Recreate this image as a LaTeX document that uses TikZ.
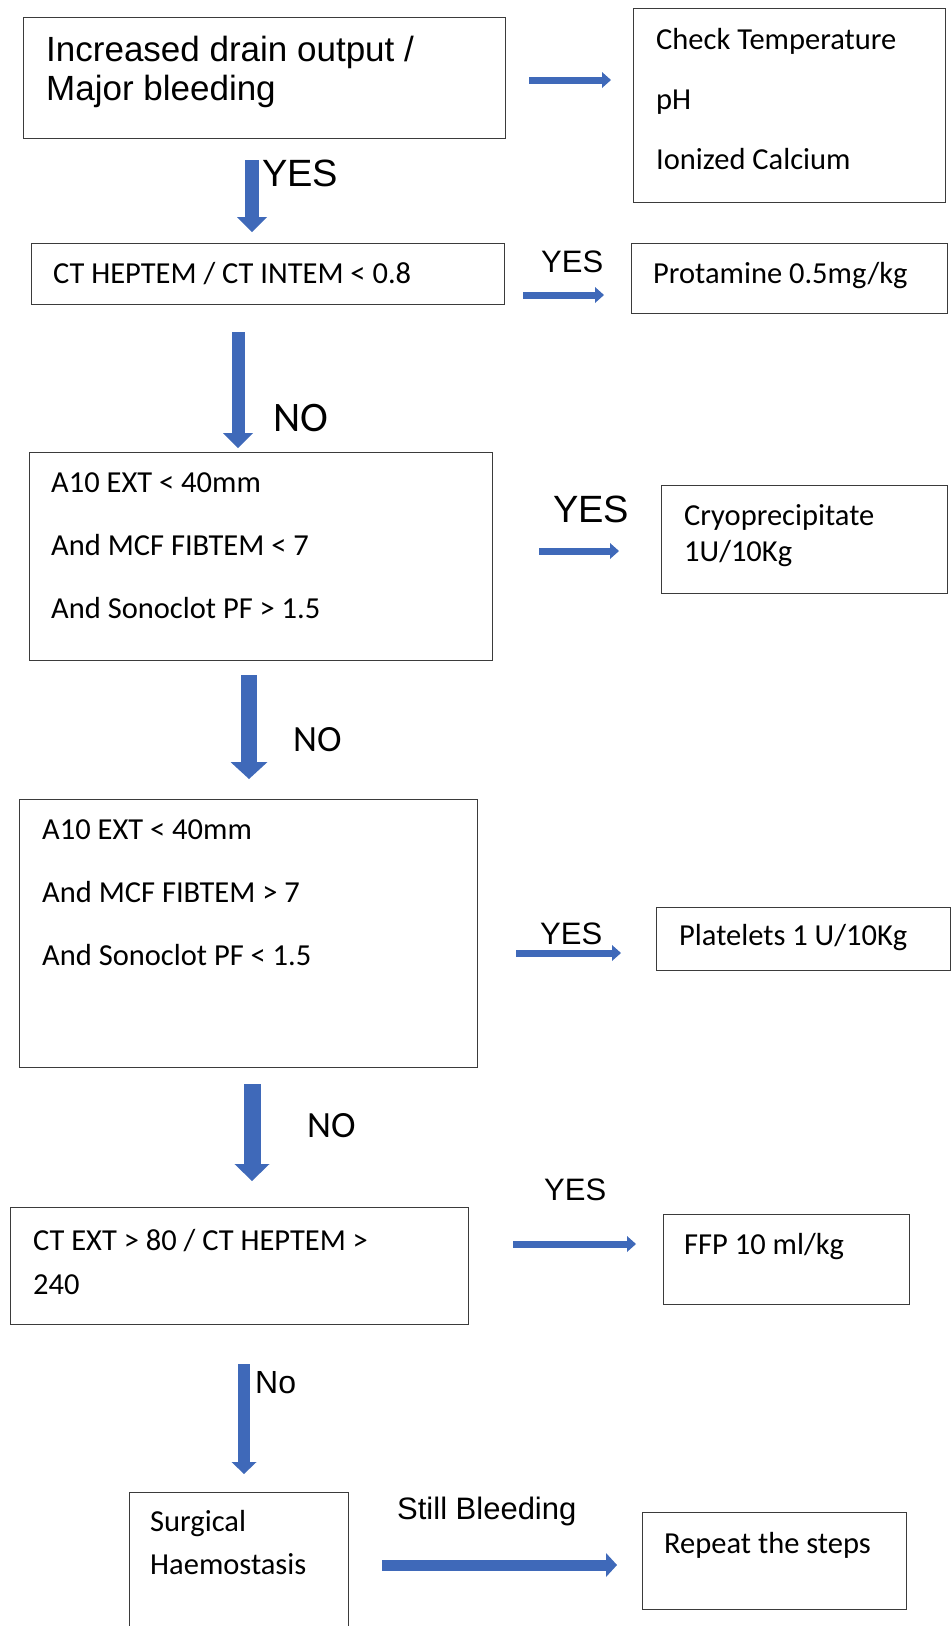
\documentclass[tikz,border=0pt]{standalone}
\usepackage{fontspec}
\setmainfont{Carlito}
\newfontfamily\arialfont{Liberation Sans}
\usetikzlibrary{arrows.meta,calc}
\definecolor{arrblue}{HTML}{3F69B9}
\definecolor{edgegray}{HTML}{3B3B3B}
\newcommand{\bodyfont}{\fontsize{30.5}{36}\selectfont}
\newcommand{\yesfont}{\arialfont\fontsize{31}{36}\selectfont}
\newcommand{\nofont}{\fontsize{37}{44}\selectfont}

\begin{document}
\begin{tikzpicture}[x=1pt, y=-1pt,
  box/.style={draw=edgegray, line width=1.4pt, anchor=north west, inner sep=0pt},
  txt/.style={anchor=base west, inner sep=0pt, font=\bodyfont},
  ylab/.style={anchor=base west, inner sep=0pt, font=\yesfont},
  nlab/.style={anchor=base west, inner sep=0pt, font=\nofont},
  vblk/.style={arrblue, line width=14pt,
    -{Triangle[width=30pt, length=15pt, line width=0pt]}},
  hblk/.style={arrblue, line width=7pt,
    -{Triangle[width=16pt, length=9pt, line width=0pt]}}]
\useasboundingbox (0,0) rectangle (951,1626);
% ----- boxes, left column -----
\node[box, minimum width=482, minimum height=121] (start) at (23,17) {};
\node[box, minimum width=473, minimum height=61] (hep) at (31,243) {};
\node[box, minimum width=463, minimum height=208] (fibA) at (29,452) {};
\node[box, minimum width=458, minimum height=268] (fibB) at (19,799) {};
\node[box, minimum width=458, minimum height=117] (ctext) at (10,1207) {};
\node[box, minimum width=219, minimum height=160] (surg) at (129,1492) {};
% ----- boxes, right column -----
\node[box, minimum width=312, minimum height=194] (chk) at (633,8) {};
\node[box, minimum width=316, minimum height=70] (prot) at (631,243) {};
\node[box, minimum width=286, minimum height=108] (cryo) at (661,485) {};
\node[box, minimum width=294, minimum height=63] (plt) at (656,907) {};
\node[box, minimum width=246, minimum height=90] (ffp) at (663,1214) {};
\node[box, minimum width=264, minimum height=97] (rep) at (642,1512) {};
% ----- texts in the boxes -----
\node[txt, font=\arialfont\fontsize{35}{39}\selectfont] (startA) at (46,61)
  {Increased drain output /};
\node[txt, font=\arialfont\fontsize{35}{39}\selectfont] (startB) at (46,100)
  {Major bleeding};
\foreach \ln/\yy [count=\i] in {Check Temperature/49, pH/109, Ionized Calcium/169}
  \node[txt] (chk\i) at (656,\yy) {\ln};
\node[txt] (hepT) at (53,283) {CT HEPTEM / CT INTEM < 0.8};
\node[txt] (protT) at (653,283) {Protamine 0.5mg/kg};
\foreach \ln/\yy [count=\i] in {A10 EXT < 40mm/492, And MCF FIBTEM < 7/555,
    And Sonoclot PF > 1.5/618}
  \node[txt] (fibA\i) at (51,\yy) {\ln};
\node[txt] (cryoA) at (684,525) {Cryoprecipitate};
\node[txt] (cryoB) at (684,561) {1U/10Kg};
\foreach \ln/\yy [count=\i] in {A10 EXT < 40mm/839, And MCF FIBTEM > 7/902,
    And Sonoclot PF < 1.5/965}
  \node[txt] (fibB\i) at (42,\yy) {\ln};
\node[txt] (pltT) at (679,945) {Platelets 1 U/10Kg};
\node[txt] (ctextA) at (33,1250) {CT EXT > 80 / CT HEPTEM >};
\node[txt] (ctextB) at (33,1294) {240};
\node[txt] (ffpT) at (684,1254) {FFP 10 ml/kg};
\node[txt] (surgA) at (150,1531) {Surgical};
\node[txt] (surgB) at (150,1574) {Haemostasis};
\node[txt] (repT) at (664,1553) {Repeat the steps};
% ----- YES / NO labels -----
\node[ylab, font=\arialfont\fontsize{38}{44}\selectfont] (yes1) at (262,186) {YES};
\node[ylab] (yes2) at (541,272) {YES};
\node[nlab, font=\fontsize{42}{48}\selectfont] (no1) at (273,431) {NO};
\node[ylab, font=\arialfont\fontsize{38}{44}\selectfont] (yes3) at (553,522) {YES};
\node[nlab] (no2) at (293,751) {NO};
\node[ylab] (yes4) at (540,944) {YES};
\node[nlab] (no3) at (307,1137) {NO};
\node[ylab] (yes5) at (544,1200) {YES};
\node[ylab, font=\arialfont\fontsize{32}{38}\selectfont] (no4) at (255,1393) {No};
\node[ylab] (still) at (397,1519) {Still Bleeding};
% ----- block arrows down -----
\draw[vblk] ($(start.south west)+(229,21)$) -- ($(hep.north west)+(221,-11)$);
\draw[vblk, line width=13pt] ($(hep.south west)+(207,27)$) -- ($(fibA.north west)+(209,-4)$);
\draw[vblk, line width=16pt, -{Triangle[width=37pt, length=17pt, line width=0pt]}]
  ($(fibA.south west)+(220,14)$) -- ($(fibB.north west)+(230,-20)$);
\draw[vblk, line width=17pt, -{Triangle[width=35pt, length=17pt, line width=0pt]}]
  ($(fibB.south west)+(233,16)$) -- ($(ctext.north west)+(242,-26)$);
\draw[vblk, line width=12pt, -{Triangle[width=25pt, length=12pt, line width=0pt]}]
  ($(ctext.south west)+(234,39)$) -- ($(surg.north west)+(115,-18)$);
% ----- block arrows across -----
\draw[hblk] ($(start.north east)+(23,63)$) -- ($(chk.north west)+(-22,72)$);
\draw[hblk] ($(hep.north east)+(18,52)$) -- ($(prot.north west)+(-27,52)$);
\draw[hblk] ($(fibA.north east)+(46,99)$) -- ($(cryo.north west)+(-42,66)$);
\draw[hblk] ($(fibB.north east)+(38,154)$) -- ($(plt.north west)+(-35,46)$);
\draw[hblk] ($(ctext.north east)+(44,37)$) -- ($(ffp.north west)+(-27,30)$);
\draw[hblk, line width=11pt, -{Triangle[width=24pt, length=11pt, line width=0pt]}]
  ($(surg.north east)+(33,73)$) -- ($(rep.north west)+(-25,53)$);
\end{tikzpicture}
\end{document}
